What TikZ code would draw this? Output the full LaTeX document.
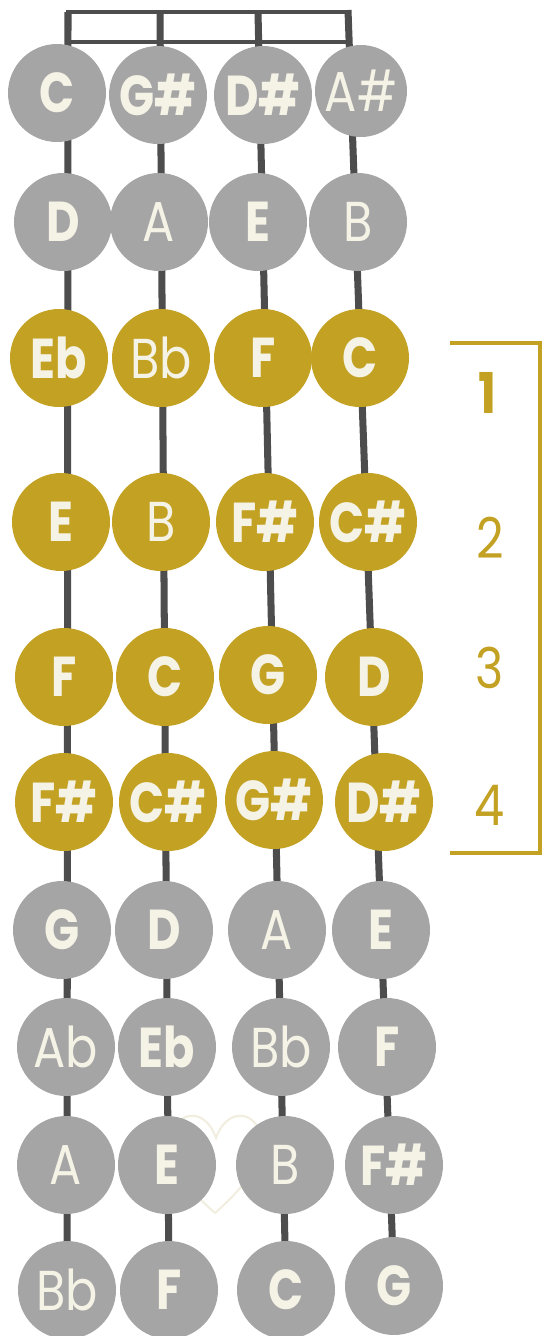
\documentclass[tikz,border=0pt]{standalone}
\usepackage{fontspec}
\usepackage{xcolor}
\usepackage{tikz}
\usetikzlibrary{
  positioning,
  backgrounds
}
\newfontfamily\heavyfont[FakeStretch=0.82]{Poppins}
\newfontfamily\thinfont[FakeStretch=0.85]{Poppins}
\definecolor{notegray}{HTML}{A5A5A5}
\definecolor{notegold}{HTML}{C3A123}
\definecolor{cream}{HTML}{F5F2E6}
\definecolor{wire}{HTML}{4D4D4D}
\definecolor{heartline}{HTML}{F1EEE0}

\begin{document}
\begin{tikzpicture}[
  x=0.02cm, y=-0.02cm,
  offnote/.style={circle, fill=notegray, text=cream, minimum size=1.96cm,
                  inner sep=0pt, font=\heavyfont\bfseries\fontsize{32}{32}\selectfont},
  offthin/.style={offnote, font=\thinfont\fontsize{32}{32}\selectfont},
  onnote/.style={offnote, fill=notegold},
  onthin/.style={offthin, fill=notegold},
  wirestr/.style={draw=wire, line width=4pt},
  nutbar/.style={draw=wire, line width=2.8pt},
  fingerno/.style={text=notegold, font=\thinfont\fontsize{32}{32}\selectfont}
]
\useasboundingbox (0,0) rectangle (543,1336);

% nut
\coordinate (t1) at (68,12);
\coordinate (t2) at (160,12);
\coordinate (t3) at (258,12);
\coordinate (t4) at (348,10);
\coordinate (nutbr) at (348,42);
\draw[nutbar] (t1) rectangle (nutbr);

% row 1
\foreach \k/\x/\y/\s/\t in {1/57/93/offnote/C, 2/158/95/offnote/G\#, 3/263/95/offnote/D\#}{
  \node[\s] (n1-\k) at (\x,\y) {\t};
}
\node[offthin, minimum size=1.84cm] (n1-4) at (361,91) {A\#};

% row 2
\foreach \k/\x/\y/\s/\t in {1/63/222/offnote/D, 2/159/222/offthin/A, 3/258/222/offnote/E, 4/358/222/offthin/B}{
  \node[\s] (n2-\k) at (\x,\y) {\t};
}

% row 3: finger 1
\foreach \k/\x/\y/\s/\t in {1/59/358/onnote/Eb, 2/161/358/onthin/Bb, 3/263/358/onnote/F, 4/360/358/onnote/C}{
  \node[\s] (n3-\k) at (\x,\y) {\t};
}

% row 4: finger 2
\foreach \k/\x/\y/\s/\t in {1/61/522/onnote/E, 2/161/522/onthin/B, 3/265/522/onnote/F\#, 4/368/522/onnote/C\#}{
  \node[\s] (n4-\k) at (\x,\y) {\t};
}

% row 5: finger 3
\foreach \k/\x/\y/\s/\t in {1/64/677/onnote/F, 2/165/677/onnote/C, 3/268/675/onnote/G, 4/374/677/onnote/D}{
  \node[\s] (n5-\k) at (\x,\y) {\t};
}

% row 6: finger 4
\foreach \k/\x/\y/\s/\t in {1/64/802/onnote/F\#, 2/168/802/onnote/C\#, 3/274/800/onnote/G\#, 4/384/802/onnote/D\#}{
  \node[\s] (n6-\k) at (\x,\y) {\t};
}

% row 7
\foreach \k/\x/\y/\s/\t in {1/62/930/offnote/G, 2/164/930/offnote/D, 3/277/930/offthin/A, 4/381/930/offnote/E}{
  \node[\s] (n7-\k) at (\x,\y) {\t};
}

% row 8
\foreach \k/\x/\y/\s/\t in {1/66/1047/offthin/Ab, 2/167/1047/offnote/Eb, 3/281/1047/offthin/Bb, 4/387/1047/offnote/F}{
  \node[\s] (n8-\k) at (\x,\y) {\t};
}

% row 9
\foreach \k/\x/\y/\s/\t in {1/66/1165/offthin/A, 2/167/1165/offnote/E, 3/285/1165/offthin/B, 4/394/1165/offnote/F\#}{
  \node[\s] (n9-\k) at (\x,\y) {\t};
}

% row 10
\foreach \k/\x/\y/\s/\t in {1/67/1290/offthin/Bb, 2/169/1290/offnote/F, 3/286/1290/offnote/C, 4/394/1286/offnote/G}{
  \node[\s] (n10-\k) at (\x,\y) {\t};
}

% strings and heart behind the notes
\begin{scope}[on background layer]
  \foreach \k in {1,...,4}{
    \draw[wirestr] (t\k) -- (n10-\k.center);
  }
  \draw[heartline, line width=1.2pt] (215,1213)
    .. controls (180,1182) and (160,1152) .. (174,1127)
    .. controls (187,1108) and (208,1114) .. (216,1138)
    .. controls (224,1114) and (246,1108) .. (258,1127)
    .. controls (271,1152) and (250,1182) .. (215,1213);
\end{scope}

% finger bracket
\coordinate (bt) at (450,343);
\coordinate (bb) at (450,853);
\draw[draw=notegold, line width=2.8pt] (bt) -- (540,343) -- (540,853) -- (bb);
\node[fingerno, font=\thinfont\bfseries\fontsize{32}{32}\selectfont] (f1) at (487,393) {1};
\node[fingerno] (f2) at (490,538) {2};
\node[fingerno] (f3) at (490,668) {3};
\node[fingerno] (f4) at (490,805) {4};
\end{tikzpicture}
\end{document}
